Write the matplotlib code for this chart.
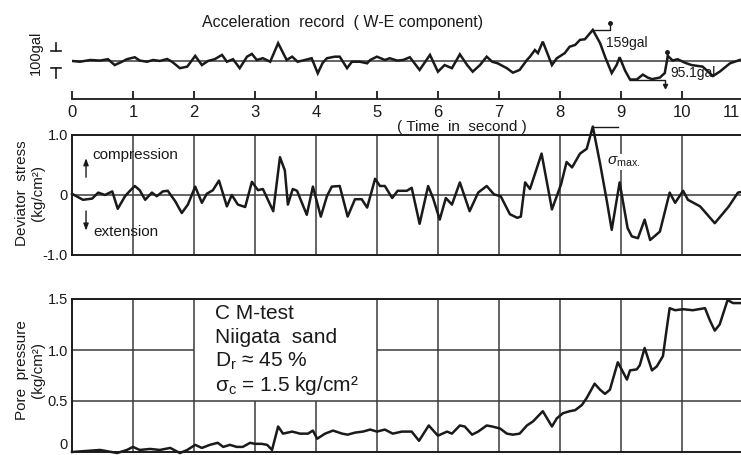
"""
Registro de aceleración, tensión desviadora y presión de poro (CM-test, arena de Niigata).
Valores leídos a ojo de la figura escaneada.
"""
import matplotlib
matplotlib.use("Agg")
import matplotlib.pyplot as plt

plt.rcParams["font.family"] = ["Liberation Sans", "DejaVu Sans"]
plt.rcParams["mathtext.fontset"] = "custom"
plt.rcParams["mathtext.rm"] = "Liberation Sans"
plt.rcParams["mathtext.it"] = "Liberation Sans:italic"

INK = "#1a1a1a"
GRID = "#3a3a3a"

# --- aceleración (gal) ---
acc_t = [0.00, 0.13, 0.30, 0.46, 0.59, 0.70, 0.82, 0.90, 1.03, 1.11, 1.23, 1.33, 1.44,
         1.56, 1.64, 1.77, 1.89, 2.02, 2.13, 2.23, 2.34, 2.46, 2.54, 2.64, 2.75, 2.87,
         2.95, 3.03, 3.13, 3.25, 3.38, 3.52, 3.61, 3.70, 3.82, 3.93, 4.03, 4.11, 4.18,
         4.31, 4.39, 4.51, 4.59, 4.72, 4.84, 4.89, 5.00, 5.13, 5.21, 5.33, 5.43, 5.54,
         5.70, 5.87, 6.00, 6.11, 6.23, 6.36, 6.48, 6.57, 6.69, 6.80, 6.89, 6.98, 7.13,
         7.23, 7.34, 7.46, 7.51, 7.59, 7.64, 7.72, 7.87, 7.95, 8.08, 8.16, 8.25, 8.33,
         8.41, 8.54, 8.66, 8.74, 8.85, 8.93, 8.98, 9.07, 9.15, 9.26, 9.36, 9.44, 9.51,
         9.64, 9.72, 9.77, 9.85, 9.93, 10.05, 10.16, 10.34, 10.51, 10.62, 10.79, 10.95]
acc_g = [0, -4, 5, 2, 9, -21, -4, 9, 19, 2, -4, 5, 0,
         10, -4, -37, -29, 26, -21, 0, 9, 31, -4, 9, -37, 22,
         36, 5, 14, -4, 91, 5, 22, -4, 5, 14, -63, -10, 14,
         22, 22, -37, -4, -4, -12, 5, 22, 5, 14, 2, 5, 19,
         -46, 31, -55, -21, -37, 34, -21, -55, -21, 22, -4, -12, -37,
         -60, -46, 5, 22, 56, 40, 99, -21, 14, 40, 73, 82, 108,
         111, 159, 91, 22, -62, -21, 19, -50, -95, -95, -70, -85, -93,
         -85, -62, 26, 2, 9, -9, -21, -29, -77, -55, -12, 5]

# --- tensión desviadora (kg/cm2) ---
dev_t = [0.00, 0.18, 0.33, 0.43, 0.54, 0.66, 0.75, 0.87, 0.95, 1.03, 1.11, 1.20, 1.31,
         1.39, 1.49, 1.57, 1.69, 1.80, 1.90, 2.02, 2.13, 2.21, 2.31, 2.41, 2.54, 2.62,
         2.72, 2.84, 2.95, 3.05, 3.13, 3.30, 3.41, 3.49, 3.54, 3.62, 3.69, 3.85, 3.95,
         4.08, 4.18, 4.26, 4.39, 4.52, 4.64, 4.75, 4.84, 4.97, 5.05, 5.13, 5.25, 5.34,
         5.49, 5.57, 5.70, 5.84, 5.92, 6.03, 6.13, 6.23, 6.36, 6.52, 6.66, 6.80, 6.92,
         7.03, 7.18, 7.30, 7.36, 7.43, 7.51, 7.70, 7.87, 8.02, 8.11, 8.20, 8.33, 8.44,
         8.54, 8.66, 8.77, 8.85, 8.98, 9.11, 9.18, 9.28, 9.39, 9.48, 9.64, 9.80, 9.89,
         10.02, 10.10, 10.30, 10.54, 10.77, 10.92, 10.97]
dev_s = [0.02, -0.08, -0.06, 0.04, 0.00, 0.06, -0.23, -0.02, 0.07, 0.15, 0.08, -0.08, 0.04,
         -0.02, 0.06, 0.07, -0.10, -0.30, -0.16, 0.14, -0.13, 0.02, 0.08, 0.24, -0.19, 0.00,
         -0.16, -0.20, 0.22, 0.08, 0.10, -0.27, 0.63, 0.41, -0.16, 0.10, 0.07, -0.33, 0.14,
         -0.36, -0.02, 0.14, 0.15, -0.36, -0.07, -0.07, -0.21, 0.27, 0.15, 0.15, -0.05, 0.07,
         0.07, 0.12, -0.48, 0.15, -0.05, -0.41, -0.05, -0.16, 0.21, -0.27, 0.04, 0.15, 0.01,
         -0.02, -0.32, -0.38, -0.36, 0.21, 0.10, 0.69, -0.24, 0.18, 0.55, 0.46, 0.69, 0.77,
         1.14, 0.52, -0.10, -0.58, 0.21, -0.55, -0.69, -0.72, -0.41, -0.75, -0.61, 0.04, -0.13,
         0.07, -0.08, -0.19, -0.47, -0.19, 0.04, 0.05]

# --- presión de poro (kg/cm2) ---
pore_t = [0.00, 0.46, 0.74, 0.90, 1.00, 1.11, 1.28, 1.44, 1.61, 1.77, 1.89, 2.02, 2.13,
          2.26, 2.39, 2.48, 2.59, 2.70, 2.80, 2.92, 3.00, 3.11, 3.20, 3.28, 3.38, 3.46,
          3.61, 3.74, 3.87, 3.95, 4.02, 4.15, 4.28, 4.43, 4.52, 4.64, 4.77, 4.89, 5.00,
          5.13, 5.26, 5.41, 5.57, 5.69, 5.85, 6.00, 6.15, 6.23, 6.36, 6.44, 6.56, 6.66,
          6.80, 6.89, 7.02, 7.13, 7.23, 7.34, 7.46, 7.56, 7.72, 7.87, 7.95, 8.05, 8.16,
          8.25, 8.36, 8.44, 8.57, 8.66, 8.74, 8.82, 8.95, 9.10, 9.15, 9.26, 9.31, 9.39,
          9.51, 9.59, 9.69, 9.75, 9.80, 9.89, 10.02, 10.18, 10.38, 10.46, 10.54, 10.62,
          10.75, 10.84, 10.95]
pore_u = [0.00, 0.02, -0.01, 0.02, 0.05, 0.02, 0.03, 0.02, 0.04, -0.01, 0.02, 0.07, 0.04,
          0.07, 0.09, 0.05, 0.07, 0.05, 0.05, 0.09, 0.08, 0.08, 0.07, 0.02, 0.25, 0.18,
          0.20, 0.18, 0.18, 0.21, 0.13, 0.18, 0.21, 0.18, 0.17, 0.19, 0.20, 0.22, 0.20,
          0.22, 0.18, 0.20, 0.20, 0.11, 0.26, 0.16, 0.20, 0.18, 0.26, 0.25, 0.17, 0.20,
          0.26, 0.25, 0.23, 0.18, 0.17, 0.18, 0.26, 0.30, 0.40, 0.25, 0.33, 0.38, 0.40,
          0.41, 0.46, 0.53, 0.67, 0.61, 0.57, 0.61, 0.88, 0.71, 0.80, 0.81, 0.85, 1.02,
          0.80, 0.84, 0.94, 1.20, 1.41, 1.39, 1.40, 1.39, 1.41, 1.29, 1.19, 1.25,
          1.49, 1.46, 1.46]

time_ticks = list(range(0, 11))
T_MAX = 10.97
W, H = 741, 455


def fx(px):
    return px / W


def fy(py):
    return 1 - py / H


fig = plt.figure(figsize=(W / 100, H / 100), dpi=100)
left, width = fx(72), 1 - fx(72)

# ---------- aceleración ----------
ax_a = fig.add_axes([left, fy(92), width, (92 - 10) / H])
ax_a.set_xlim(0, T_MAX)
ax_a.set_ylim(-159, 261)
ax_a.axis("off")
ax_a.axhline(0, color=GRID, lw=1.1)
ax_a.plot(acc_t, acc_g, color=INK, lw=1.8, solid_joinstyle="miter")
i_max = acc_g.index(max(acc_g))
i_min = acc_g.index(min(acc_g))
ax_a.plot([acc_t[i_max], 8.82, 8.82], [acc_g[i_max], acc_g[i_max], 195], color=INK, lw=1.0)
ax_a.plot([8.82], [195], "o", color=INK, ms=2.5)
ax_a.text(8.75, 92, "159gal", fontsize=10, color=INK, va="center")
ax_a.plot([acc_t[i_min], 9.73, 9.73], [acc_g[i_min], acc_g[i_min], -130], color=INK, lw=1.0)
ax_a.plot([9.73], [-130], "v", color=INK, ms=3)
ax_a.plot([9.75, 9.75], [15, 45], color=INK, lw=1.0)
ax_a.plot([9.75], [45], "o", color=INK, ms=2.5)
ax_a.text(9.82, -62, "95.1gal", fontsize=10, color=INK, va="center")

fig.text(fx(343), fy(23), "Acceleration  record  ( W-E component)", fontsize=11.5,
         ha="center", va="center", color=INK)
# barra de escala 100 gal
fig.text(fx(36), fy(53), "100gal", rotation=90, fontsize=10.5, ha="center", va="center", color=INK)
fig.add_artist(plt.Line2D([fx(51), fx(61)], [fy(51), fy(51)], color=INK, lw=1.2))
fig.add_artist(plt.Line2D([fx(56), fx(56)], [fy(43), fy(51)], color=INK, lw=1.2))
fig.add_artist(plt.Line2D([fx(51), fx(61)], [fy(68), fy(68)], color=INK, lw=1.2))
fig.add_artist(plt.Line2D([fx(56), fx(56)], [fy(68), fy(78)], color=INK, lw=1.2))

# ---------- eje de tiempo ----------
ax_t = fig.add_axes([left, fy(99), width, 0.002])
ax_t.set_xlim(0, T_MAX)
ax_t.set_yticks([])
for s in ("left", "right", "top"):
    ax_t.spines[s].set_visible(False)
ax_t.spines["bottom"].set_linewidth(1.3)
ax_t.spines["bottom"].set_color(INK)
ax_t.set_xticks(time_ticks)
ax_t.tick_params(axis="x", direction="in", length=6, width=1.3, pad=4, labelsize=12,
                 colors=INK)
ax_t.annotate("11", xy=(T_MAX - 0.01, 0), xycoords=ax_t.get_xaxis_transform(),
              xytext=(0, -4), textcoords="offset points", fontsize=12,
              ha="right", va="top", color=INK, annotation_clip=False)
fig.text(fx(462), fy(127), "( Time  in  second )", fontsize=11, ha="center", va="center",
         color=INK)


def box(ax, yticks, ylabels):
    ax.set_xlim(0, T_MAX)
    ax.spines["right"].set_visible(False)
    for s in ("left", "top", "bottom"):
        ax.spines[s].set_linewidth(1.4)
        ax.spines[s].set_color(INK)
    ax.set_xticks([])
    ax.set_yticks(yticks)
    ax.set_yticklabels(ylabels)
    ax.tick_params(axis="y", length=0, pad=3, labelsize=10.5, colors=INK)


# ---------- tensión desviadora ----------
ax_s = fig.add_axes([left, fy(255), width, 120 / H])
box(ax_s, [-1, 0, 1], ["-1.0", "0", "1.0"])
ax_s.set_ylim(-1, 1)
for t in time_ticks[1:]:
    ax_s.axvline(t, color=GRID, lw=1.1)
ax_s.axhline(0, color=GRID, lw=1.1)
ax_s.plot(dev_t, dev_s, color=INK, lw=1.8, clip_on=False)
ax_s.text(0.33, 0.66, "compression", fontsize=11, va="center", color=INK)
ax_s.annotate("", xy=(0.23, 0.66), xytext=(0.23, 0.25),
              arrowprops=dict(arrowstyle="-|>,head_width=0.15,head_length=0.4", color=INK, lw=1))
ax_s.text(0.35, -0.62, "extension", fontsize=11, va="center", color=INK)
ax_s.annotate("", xy=(0.23, -0.64), xytext=(0.23, -0.22),
              arrowprops=dict(arrowstyle="-|>,head_width=0.15,head_length=0.4", color=INK, lw=1))
j = dev_s.index(max(dev_s))
ax_s.plot([dev_t[j], 8.95], [dev_s[j], dev_s[j]], color=INK, lw=1.0, clip_on=False)
ax_s.annotate("", xy=(8.80, dev_s[j]), xytext=(8.80, 0),
              arrowprops=dict(arrowstyle="<|-|>,head_width=0.12,head_length=0.35", color=INK, lw=0.9))
ax_s.text(8.78, 0.55, r"$\sigma_{\rm max.}$", fontsize=11, va="center", color=INK,
          bbox=dict(facecolor="white", edgecolor="none", pad=0.5))
fig.text(fx(30), fy(193), "Deviator  stress\n(kg/cm²)", rotation=90, fontsize=11,
         ha="center", va="center", color=INK, linespacing=1.2)

# ---------- presión de poro ----------
ax_p = fig.add_axes([left, fy(452), width, 153 / H])
box(ax_p, [0, 0.5, 1.0, 1.5], ["0", "0.5", "1.0", "1.5"])
ax_p.set_ylim(0, 1.5)
for lab in ax_p.get_yticklabels():
    if lab.get_text() == "0":
        lab.set_verticalalignment("bottom")
for t in time_ticks[1:]:
    top = 0.5 if t in (3, 4) else 1.5
    ax_p.vlines(t, 0, top, color=GRID, lw=1.1)
ax_p.hlines(0.5, 0, T_MAX, color=GRID, lw=1.1)
ax_p.hlines(1.0, 0, 2, color=GRID, lw=1.1)
ax_p.hlines(1.0, 5, T_MAX, color=GRID, lw=1.1)
ax_p.plot(pore_t, pore_u, color=INK, lw=1.8, clip_on=False)
info = ["C M-test", "Niigata  sand", r"D$_{\rm r}$ ≈ 45 %", r"σ$_{\rm c}$ = 1.5 kg/cm²"]
for k, line in enumerate(info):
    ax_p.text(2.35, 1.36 - 0.235 * k, line, fontsize=15, va="center", color=INK)
fig.text(fx(30), fy(370), "Pore  pressure\n(kg/cm²)", rotation=90, fontsize=11,
         ha="center", va="center", color=INK, linespacing=1.2)

fig.savefig("out.png", dpi=100)
